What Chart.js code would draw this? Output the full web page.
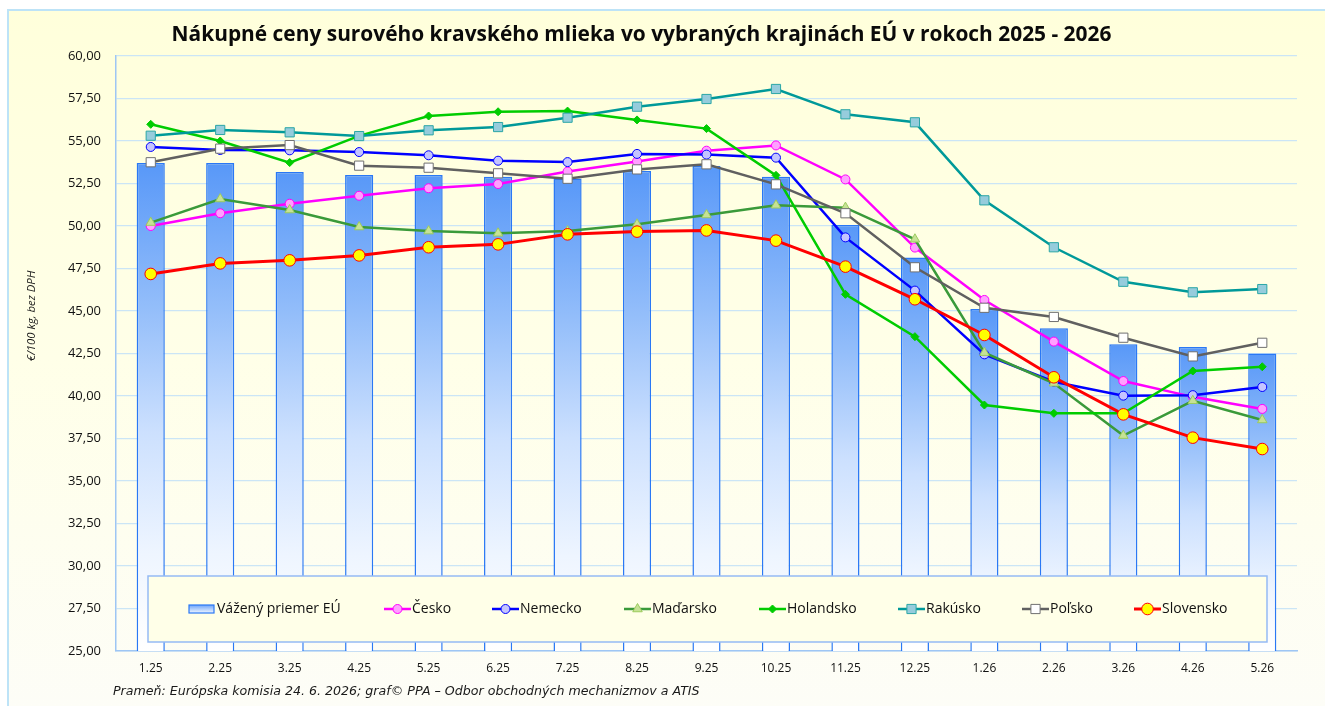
<!DOCTYPE html>
<html><head><meta charset="utf-8">
<script src="https://cdn.jsdelivr.net/npm/chart.js@4.4.1/dist/chart.umd.min.js"></script>
<style>html,body{margin:0;padding:0;background:#fff;}#wrap{width:1325px;height:706px;position:relative;}</style>
</head><body><div id="wrap"><canvas id="c" width="1325" height="706"></canvas></div>
<script>
// ---- data ----
const categories = ['1.25','2.25','3.25','4.25','5.25','6.25','7.25','8.25','9.25','10.25','11.25','12.25','1.26','2.26','3.26','4.26','5.26'];
const euAverage  = [53.70,53.70,53.18,53.00,53.00,52.90,52.80,53.24,53.53,52.90,50.06,48.14,45.12,43.98,43.04,42.88,42.50];
const cesko      = [50.00,50.75,51.31,51.78,52.22,52.47,53.20,53.80,54.43,54.74,52.74,48.73,45.65,43.20,40.88,39.95,39.24];
const nemecko    = [54.65,54.47,54.45,54.35,54.16,53.84,53.76,54.24,54.20,54.02,49.33,46.20,42.45,40.84,40.02,40.05,40.53];
const madarsko   = [50.20,51.59,50.94,49.94,49.70,49.57,49.70,50.10,50.65,51.22,51.08,49.22,42.55,40.75,37.67,39.72,38.59];
const holandsko  = [55.98,55.00,53.73,55.30,56.47,56.72,56.76,56.24,55.73,52.98,45.98,43.49,39.47,38.98,38.98,41.47,41.72];
const rakusko    = [55.31,55.65,55.51,55.29,55.63,55.82,56.37,57.02,57.47,58.06,56.57,56.10,51.51,48.75,46.72,46.10,46.29];
const polsko     = [53.75,54.55,54.76,53.55,53.43,53.10,52.78,53.33,53.63,52.45,50.75,47.57,45.19,44.65,43.43,42.33,43.13];
const slovensko  = [47.18,47.80,47.98,48.27,48.75,48.92,49.51,49.67,49.74,49.14,47.61,45.69,43.59,41.10,38.92,37.55,36.88];
const yMin = 25, yMax = 60, yStep = 2.5;
const seriesNames = ['Vážený priemer EÚ','Česko','Nemecko','Maďarsko','Holandsko','Rakúsko','Poľsko','Slovensko'];
const titleText = 'Nákupné ceny surového kravského mlieka vo vybraných krajinách EÚ v rokoch 2025 - 2026';
const yTitleText = '€/100 kg, bez DPH';
const footerText = 'Prameň: Európska komisia 24. 6. 2026; graf© PPA – Odbor obchodných mechanizmov a ATIS';

// ---- layout (not data) ----
const legendX = [189, 384, 492, 624, 759, 898, 1022, 1134];
const FONT = '"Open Sans", "Noto Sans", sans-serif';

function barGradient(c) {
  const chart = c.chart;
  if (!chart.chartArea || c.type !== 'data') return '#7aaefb';
  const y = chart.scales.y;
  const top = y.getPixelForValue(c.raw);
  const bottom = y.getPixelForValue(yMin);
  const g = chart.ctx.createLinearGradient(0, top, 0, bottom);
  g.addColorStop(0, 'rgb(88,152,248)');
  g.addColorStop(0.3, 'rgb(148,190,250)');
  g.addColorStop(0.55, 'rgb(204,224,254)');
  g.addColorStop(0.8, 'rgb(238,245,255)');
  g.addColorStop(1, 'rgb(255,255,255)');
  return g;
}

function lineDs(label, data, color, pt, r, fill, border, order, lw) {
  return {type:'line', label, data, borderColor:color, borderWidth:lw||2.5, backgroundColor:fill,
    pointStyle:pt, pointRadius:r, pointHoverRadius:r, pointBackgroundColor:fill, pointBorderColor:border,
    pointBorderWidth:1, tension:0, fill:false, order};
}

const datasets = [
  {type:'bar', label:seriesNames[0], data:euAverage, backgroundColor:barGradient, borderColor:'#2A78F5',
   borderWidth:1.5, borderSkipped:false, barPercentage:0.405, categoryPercentage:1, order:20},
  lineDs(seriesNames[1], cesko, '#FF00FF', 'circle', 4.5, '#FFA0FF', '#FF00FF', 7),
  lineDs(seriesNames[2], nemecko, '#0000FF', 'circle', 4.5, '#C4C4FF', '#0000FF', 6),
  lineDs(seriesNames[3], madarsko, '#3A9A3A', 'triangle', 5.5, '#C6E295', '#9CCB5E', 5),
  lineDs(seriesNames[4], holandsko, '#00CC00', 'rectRot', 4, '#00CC00', '#00CC00', 4),
  lineDs(seriesNames[5], rakusko, '#009999', 'rect', 6.5, '#96CCDC', '#2AA6A6', 3),
  lineDs(seriesNames[6], polsko, '#606060', 'rect', 6.5, '#FFFFFF', '#707070', 2),
  lineDs(seriesNames[7], slovensko, '#FF0000', 'circle', 5.8, '#FFFF00', '#FF0000', 1, 3)
];

function fitFont(ctx, text, style, family, base, target) {
  ctx.font = style + ' ' + base + 'px ' + family;
  const w = ctx.measureText(text).width;
  const size = base * target / w;
  ctx.font = style + ' ' + size.toFixed(2) + 'px ' + family;
}

const decor = {
  id:'decor',
  beforeDraw(chart) {
    const ctx = chart.ctx;
    ctx.save();
    ctx.fillStyle = '#FFFFFF';
    ctx.fillRect(0,0,chart.width,chart.height);
    const g = ctx.createLinearGradient(0,10,0,chart.height);
    g.addColorStop(0,'#FFFFDB');
    g.addColorStop(0.5,'#FFFFE8');
    g.addColorStop(1,'#FDFDF7');
    ctx.fillStyle = g;
    ctx.fillRect(8,10,chart.width,chart.height);
    ctx.strokeStyle = '#BDE3F7';
    ctx.lineWidth = 2;
    ctx.strokeRect(8,10,chart.width+10,chart.height+10);
    ctx.restore();
  },
  afterDatasetsDraw(chart) {
    const ctx = chart.ctx;
    const ca = chart.chartArea;
    const bx = ca.left + 32, by = 576, bw = 1267 - bx, bh = 66;
    ctx.save();
    ctx.fillStyle = '#FFFFE8';
    ctx.fillRect(bx, by, bw, bh);
    ctx.strokeStyle = '#95BAF5';
    ctx.lineWidth = 1.5;
    ctx.strokeRect(bx, by, bw, bh);
    const ly = 609;
    chart.data.datasets.forEach((ds, i) => {
      const x0 = legendX[i];
      if (ds.type === 'bar') {
        const g = ctx.createLinearGradient(0, ly-4, 0, ly+4);
        g.addColorStop(0,'rgb(110,165,250)'); g.addColorStop(1,'rgb(240,246,255)');
        ctx.fillStyle = g;
        ctx.fillRect(x0, ly-4, 25, 8);
        ctx.strokeStyle = ds.borderColor; ctx.lineWidth = 1.2;
        ctx.strokeRect(x0, ly-4, 25, 8);
      } else {
        ctx.strokeStyle = ds.borderColor; ctx.lineWidth = ds.borderWidth;
        ctx.beginPath(); ctx.moveTo(x0, ly); ctx.lineTo(x0+27, ly); ctx.stroke();
        ctx.fillStyle = ds.pointBackgroundColor; ctx.strokeStyle = ds.pointBorderColor; ctx.lineWidth = 1;
        Chart.helpers.drawPoint(ctx, {pointStyle: ds.pointStyle, radius: ds.pointRadius, rotation: 0, borderWidth: 1}, x0+13.5, ly);
      }
      ctx.fillStyle = '#111';
      ctx.font = '14px ' + FONT;
      ctx.textAlign = 'left'; ctx.textBaseline = 'middle';
      ctx.fillText(ds.label, x0 + 28, ly + 0.5);
    });
    ctx.restore();
  },
  afterDraw(chart) {
    const ctx = chart.ctx;
    ctx.save();
    ctx.fillStyle = '#0A0A0A';
    ctx.font = 'bold 20.9px ' + FONT;
    ctx.textAlign = 'center'; ctx.textBaseline = 'middle';
    ctx.fillText(titleText, 641.5, 35);
    fitFont(ctx, footerText, 'italic', '"DejaVu Sans", sans-serif', 12, 587);
    ctx.textAlign = 'left';
    ctx.fillStyle = '#1A1A1A';
    ctx.fillText(footerText, 113, 692);
    ctx.translate(32, 316);
    ctx.rotate(-Math.PI/2);
    ctx.textAlign = 'center';
    ctx.font = 'italic 11.3px ' + FONT;
    ctx.fillText(yTitleText, 0, 0);
    ctx.restore();
  }
};

new Chart(document.getElementById('c'), {
  data: {labels: categories, datasets},
  options: {
    responsive:false, animation:false, devicePixelRatio:1,
    layout:{padding:{top:56, left:0, right:28, bottom:0}},
    plugins:{legend:{display:false}, title:{display:false}, tooltip:{enabled:false}},
    scales:{
      x:{type:'category', offset:true,
        grid:{display:false, drawTicks:false},
        border:{display:true, color:'#9EC6F4', width:1.5},
        ticks:{color:'#111', font:{family:FONT, size:12}, padding:10, maxRotation:0, autoSkip:false},
        afterFit(s){ s.height = 55; }
      },
      y:{type:'linear', min:yMin, max:yMax,
        grid:{color:'#CBE5F6', lineWidth:1.3, drawTicks:false},
        border:{display:true, color:'#9EC6F4', width:1.5},
        ticks:{stepSize:yStep, color:'#111', font:{family:FONT, size:13}, padding:15,
          callback:(v)=>Number(v).toFixed(2).replace('.', ',')},
        afterFit(s){ s.width = 116; }
      }
    }
  },
  plugins:[decor]
});
</script></body></html>
